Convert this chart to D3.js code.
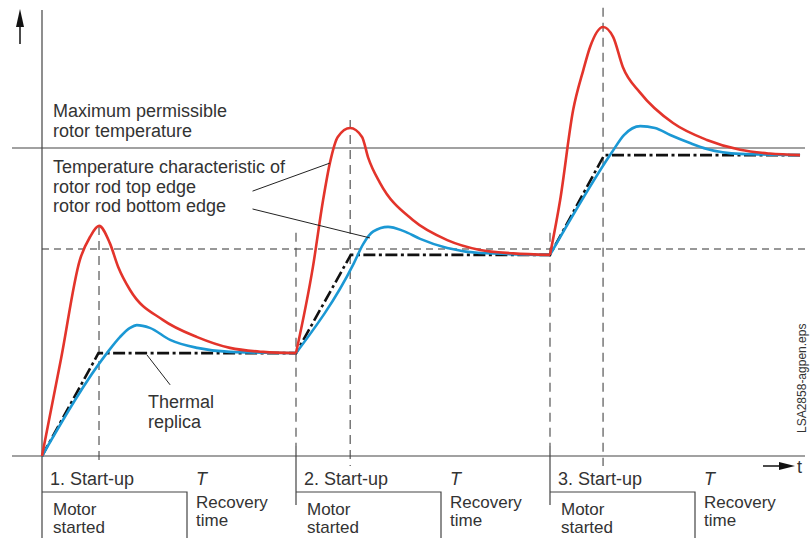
<!DOCTYPE html>
<html>
<head>
<meta charset="utf-8">
<script src="https://cdn.jsdelivr.net/npm/d3@7"></script>
<style>
  body { margin: 0; background: #fff; }
  text { font-family: "Liberation Sans", Arial, sans-serif; fill: #333; }
</style>
</head>
<body>
<div id="chart"></div>
<script>
// time in arbitrary units (one start-up + recovery = 45), temperature in % of max permissible
const startTimes = [0, 45, 90];
const peakTimes = [10.1, 54.6, 99.4];
const peakDashTop = [74.7, 109.1, 145.5];
const maxPermissible = 100;
const referenceLevel = 67.2;

const topEdge = [
  [0, 0], [3.4, 31.8], [6.7, 63.6], [8.5, 71.1], [10.1, 74.7], [12.0, 69.2], [13.5, 61.4],
  [15.6, 53.9], [21.4, 44.2], [27.5, 38.6], [33.3, 35.1], [39.2, 33.8], [45, 33.4],
  [48.0, 61.4], [49.8, 83.1], [51.0, 95.1], [52.4, 103.6], [54.6, 106.5], [56.7, 103.6],
  [57.8, 96.8], [59.9, 88.6], [65.7, 76.6], [71.8, 70.1], [77.6, 66.9], [83.5, 65.8], [90, 65.3],
  [91.8, 83.1], [94.1, 112.3], [95.9, 125.3], [97.1, 132.8], [99.4, 139.3], [101.2, 136.0],
  [102.9, 126.3], [106.0, 117.9], [111.8, 108.1], [117.8, 102.6], [123.7, 99.4], [128.9, 98.2], [134.3, 97.7]
];

const bottomEdge = [
  [0, 0], [11.5, 33.4], [13.8, 38.6], [15.6, 41.6], [16.8, 42.5], [19.1, 41.6], [22.7, 37.7],
  [27.5, 35.1], [33.3, 33.8], [45, 33.4],
  [55.2, 62.4], [56.9, 68.8], [58.7, 72.9], [61.3, 74.4], [64.0, 73.1], [67.0, 70.5],
  [71.8, 67.5], [77.6, 65.9], [90, 65.3],
  [101.0, 98.7], [103.1, 104.2], [106.0, 107.1], [108.6, 106.5], [111.3, 104.2], [114.8, 101.6],
  [117.8, 99.7], [123.7, 98.1], [134.3, 97.7]
];

const thermalReplica = [
  [0, 0], [10, 33.4], [45, 33.4], [54.7, 65.3], [90, 65.3], [99.6, 97.7], [134.3, 97.7]
];

const leaders = [
  [[37.3, 86.0], [51.0, 95.1]],
  [[37.3, 80.2], [58.1, 70.8]],
  [[18.6, 32.8], [22.7, 23.1]]
];

const width = 811, height = 538;

const svg = d3.select("#chart")
    .append("svg")
    .attr("width", width)
    .attr("height", height);

const x = d3.scaleLinear().domain([0, 45]).range([42, 296]);
const y = d3.scaleLinear().domain([0, 100]).range([456, 148]);

const axisColor = "#444";

// reference lines
svg.append("line")
    .attr("x1", 12).attr("x2", 805)
    .attr("y1", y(maxPermissible)).attr("y2", y(maxPermissible))
    .attr("stroke", axisColor).attr("stroke-width", 1.2);

svg.append("line")
    .attr("x1", x(0)).attr("x2", 805)
    .attr("y1", y(referenceLevel)).attr("y2", y(referenceLevel))
    .attr("stroke", "#777").attr("stroke-width", 1.3)
    .attr("stroke-dasharray", "7,5");

// dashed verticals at each peak
svg.selectAll(".peak-dash")
    .data(peakTimes)
    .join("line")
    .attr("class", "peak-dash")
    .attr("x1", d => x(d)).attr("x2", d => x(d))
    .attr("y1", (d, i) => y(peakDashTop[i])).attr("y2", 466)
    .attr("stroke", "#555").attr("stroke-width", 1.2)
    .attr("stroke-dasharray", "9,6");

// dashed verticals at start-ups 2 and 3
svg.selectAll(".start-dash")
    .data(startTimes.slice(1))
    .join("line")
    .attr("class", "start-dash")
    .attr("x1", d => x(d)).attr("x2", d => x(d))
    .attr("y1", y(72.5)).attr("y2", 446)
    .attr("stroke", "#555").attr("stroke-width", 1.2)
    .attr("stroke-dasharray", "9,6");

svg.selectAll(".start-solid")
    .data(startTimes.slice(1))
    .join("line")
    .attr("class", "start-solid")
    .attr("x1", d => x(d)).attr("x2", d => x(d))
    .attr("y1", 446).attr("y2", 505)
    .attr("stroke", axisColor).attr("stroke-width", 1.2);

// axes
svg.append("line")
    .attr("x1", x(0)).attr("x2", x(0))
    .attr("y1", 10).attr("y2", height)
    .attr("stroke", axisColor).attr("stroke-width", 1.2);

svg.append("line")
    .attr("x1", 12).attr("x2", 805)
    .attr("y1", y(0)).attr("y2", y(0))
    .attr("stroke", axisColor).attr("stroke-width", 1.2);

// temperature arrow
svg.append("line")
    .attr("x1", 20).attr("x2", 20).attr("y1", 44).attr("y2", 22)
    .attr("stroke", "#111").attr("stroke-width", 1.5);
svg.append("path")
    .attr("d", "M20,9 L16,27 L24,27 Z")
    .attr("fill", "#111");

// time arrow
svg.append("line")
    .attr("x1", 763).attr("x2", 782).attr("y1", 466).attr("y2", 466)
    .attr("stroke", "#111").attr("stroke-width", 1.5);
svg.append("path")
    .attr("d", "M795,466 L779,462 L779,470 Z")
    .attr("fill", "#111");
svg.append("text")
    .attr("x", 797).attr("y", 473)
    .style("font-size", "18px")
    .text("t");

// split a series into its start-up cycles so corners at each start-up stay sharp
function cycles(series) {
    const ends = startTimes.slice(1).concat([Infinity]);
    return startTimes.map((s, i) => series.filter(d => d[0] >= s && d[0] <= ends[i]));
}

const smooth = d3.line()
    .x(d => x(d[0]))
    .y(d => y(d[1]))
    .curve(d3.curveMonotoneX);

svg.selectAll(".replica")
    .data([thermalReplica])
    .join("path")
    .attr("class", "replica")
    .attr("d", d3.line().x(d => x(d[0])).y(d => y(d[1])))
    .attr("fill", "none")
    .attr("stroke", "#111")
    .attr("stroke-width", 2.6)
    .attr("stroke-dasharray", "12,3.5,3,3.5");

svg.selectAll(".bottom-edge")
    .data(cycles(bottomEdge))
    .join("path")
    .attr("class", "bottom-edge")
    .attr("d", smooth)
    .attr("fill", "none")
    .attr("stroke", "#1b98d4")
    .attr("stroke-width", 2.6)
    .attr("stroke-linejoin", "round");

svg.selectAll(".top-edge")
    .data(cycles(topEdge))
    .join("path")
    .attr("class", "top-edge")
    .attr("d", smooth)
    .attr("fill", "none")
    .attr("stroke", "#e3342b")
    .attr("stroke-width", 2.6)
    .attr("stroke-linejoin", "round");

// leader lines
svg.selectAll(".leader")
    .data(leaders)
    .join("line")
    .attr("class", "leader")
    .attr("x1", d => x(d[0][0])).attr("y1", d => y(d[0][1]))
    .attr("x2", d => x(d[1][0])).attr("y2", d => y(d[1][1]))
    .attr("stroke", "#222").attr("stroke-width", 1);

// labels
const labels = [
    ["Maximum permissible", 53, 117],
    ["rotor temperature", 53, 137],
    ["Temperature characteristic of", 53, 173],
    ["rotor rod top edge", 53, 193],
    ["rotor rod bottom edge", 53, 212],
    ["Thermal", 148, 408],
    ["replica", 148, 428]
];

svg.selectAll(".label")
    .data(labels)
    .join("text")
    .attr("class", "label")
    .attr("x", d => d[1]).attr("y", d => d[2])
    .style("font-size", "18px")
    .text(d => d[0]);

// start-up / recovery boxes under the axis
const boxWidth = 145;
const phase = svg.selectAll(".phase")
    .data(startTimes)
    .join("g")
    .attr("class", "phase")
    .attr("transform", d => `translate(${x(d)},0)`);

phase.append("path")
    .attr("d", `M0,492 H${boxWidth} V${height}`)
    .attr("fill", "none")
    .attr("stroke", axisColor).attr("stroke-width", 1.2);

phase.append("text").attr("x", 8).attr("y", 485)
    .style("font-size", "18px")
    .text((d, i) => `${i + 1}. Start-up`);
phase.append("text").attr("x", 11).attr("y", 515)
    .style("font-size", "17px").text("Motor");
phase.append("text").attr("x", 11).attr("y", 533)
    .style("font-size", "17px").text("started");
phase.append("text").attr("x", 154).attr("y", 485)
    .style("font-size", "18px").style("font-style", "italic").text("T");
phase.append("text").attr("x", 154).attr("y", 508)
    .style("font-size", "17px").text("Recovery");
phase.append("text").attr("x", 154).attr("y", 526)
    .style("font-size", "17px").text("time");

// file tag
svg.append("text")
    .attr("transform", "translate(806,433) rotate(-90)")
    .style("font-size", "12px")
    .text("LSA2858-agpen.eps");
</script>
</body>
</html>
